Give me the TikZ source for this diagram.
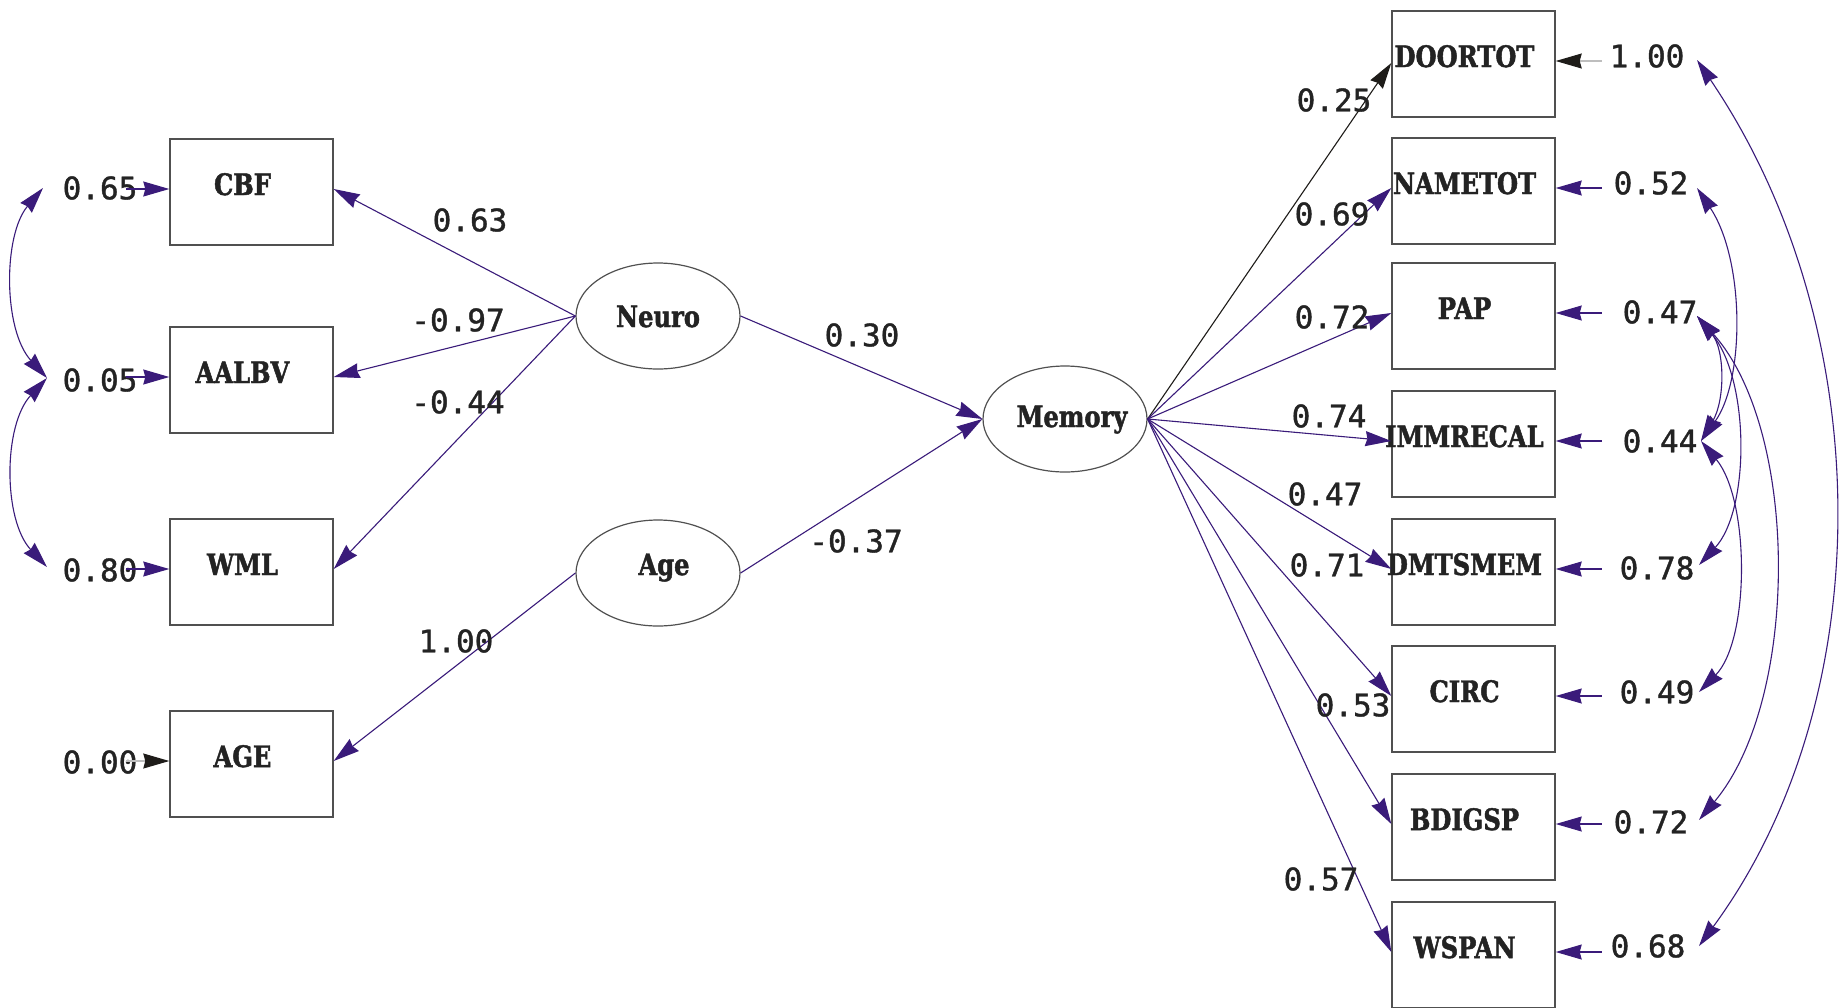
\documentclass[tikz,border=0pt]{standalone}
\usepackage{fontspec}
\usetikzlibrary{arrows.meta,shapes.geometric}
\newfontfamily\numfont[FakeBold=1.2]{DejaVu Sans Mono}
\newfontfamily\lblfont[FakeStretch=0.82,BoldFeatures={FakeStretch=0.82,FakeBold=1.6}]{DejaVu Serif}
\definecolor{pth}{RGB}{58,27,122}
\definecolor{txt}{RGB}{35,35,35}
\definecolor{edg}{RGB}{80,80,80}
\definecolor{fixl}{RGB}{190,190,190}
\definecolor{fixh}{RGB}{30,28,25}
\begin{document}
\begin{tikzpicture}[x=1pt,y=-1pt,
 box/.style={draw=edg,line width=1.4pt,rectangle,minimum width=163pt,minimum height=106pt,inner sep=0pt},
 lat/.style={draw=edg,line width=1.2pt,ellipse,minimum width=164pt,minimum height=106pt,inner sep=0pt},
 vname/.style={text=txt,font=\lblfont\bfseries\fontsize{29.5}{30}\selectfont,inner sep=0pt,anchor=base},
 num/.style={text=txt,font=\numfont\fontsize{31}{31}\selectfont,inner sep=0pt},
 pa/.style={draw=pth,line width=1.1pt,-{Stealth[length=26pt,width=15pt,inset=2pt]}},
 fa/.style={draw=fixl,line width=1.1pt,-{Stealth[length=26pt,width=15pt,inset=2pt,color=fixh]}},
 la/.style={draw=fixh,line width=1.1pt,-{Stealth[length=26pt,width=15pt,inset=2pt]}},
 cov/.style={draw=pth,line width=1.1pt,{Stealth[length=26pt,width=15pt,inset=2pt]}-{Stealth[length=26pt,width=15pt,inset=2pt]}},
]
\fill[white] (0,0) rectangle (1843,1007);
\useasboundingbox (0,0) rectangle (1843,1007);

% left boxes
\node[box] (CBF) at (251.5,192) {};
\node[box] (AALBV) at (251.5,380) {};
\node[box] (WML) at (251.5,572) {};
\node[box] (AGE) at (251.5,764) {};
\foreach \b/\t in {CBF/CBF,AALBV/AALBV,WML/WML,AGE/AGE}
  \node[vname] (t\b) at ([shift={(-9,3)}]\b.center) {\t};

% right boxes
\node[box] (DOOR) at (1473.5,64) {};
\node[box] (NAME) at (1473.5,191) {};
\node[box] (PAP) at (1473.5,316) {};
\node[box] (IMM) at (1473.5,444) {};
\node[box] (DMTS) at (1473.5,572) {};
\node[box] (CIRC) at (1473.5,699) {};
\node[box] (BDIG) at (1473.5,827) {};
\node[box] (WSPAN) at (1473.5,955) {};
\foreach \b/\t in {DOOR/DOORTOT,NAME/NAMETOT,PAP/PAP,IMM/IMMRECAL,DMTS/DMTSMEM,CIRC/CIRC,BDIG/BDIGSP,WSPAN/WSPAN}
  \node[vname] (t\b) at ([shift={(-9,3)}]\b.center) {\t};

% latent variables
\node[lat] (Neuro) at (658,316) {};
\node[lat] (Age) at (658,573) {};
\node[lat] (Memory) at (1065,419) {};
\node[vname] (tNeuro) at (658,327) {Neuro};
\node[vname] (tAge) at (664,575) {Age};
\node[vname] (tMemory) at (1072,427) {Memory};

% left error labels
\node[num] (e65) at (100,188) {0.65};
\node[num] (e05) at (100,380) {0.05};
\node[num] (e80) at (100,570) {0.80};
\node[num] (e00) at (100,762) {0.00};
\draw[pa] ([shift={(-43,-3)}]CBF.west) -- ([shift={(0,-3)}]CBF.west);
\draw[pa] ([shift={(-43,-3)}]AALBV.west) -- ([shift={(0,-3)}]AALBV.west);
\draw[pa] ([shift={(-43,-3)}]WML.west) -- ([shift={(0,-3)}]WML.west);
\draw[fa] ([shift={(-43,-3)}]AGE.west) -- ([shift={(0,-3)}]AGE.west);

% right error labels
\node[num] (eDOOR) at (1647,56) {1.00};
\node[num] (eNAME) at (1651,183) {0.52};
\node[num] (ePAP) at (1660,312) {0.47};
\node[num] (eIMM) at (1660,441) {0.44};
\node[num] (eDMTS) at (1657,568) {0.78};
\node[num] (eCIRC) at (1657,692) {0.49};
\node[num] (eBDIG) at (1651,822) {0.72};
\node[num] (eWSPAN) at (1648,946) {0.68};
\draw[fa] ([shift={(46,-3)}]DOOR.east) -- ([shift={(0,-3)}]DOOR.east);
\foreach \b in {NAME,PAP,IMM,DMTS,CIRC,BDIG,WSPAN}
  \draw[pa] ([shift={(46,-3)}]\b.east) -- ([shift={(0,-3)}]\b.east);

% structural paths
\draw[pa] (Neuro.west) -- ([shift={(0,-3)}]CBF.east);
\draw[pa] (Neuro.west) -- ([shift={(0,-3)}]AALBV.east);
\draw[pa] (Neuro.west) -- ([shift={(0,-3)}]WML.east);
\draw[pa] (Age.west) -- ([shift={(0,-3)}]AGE.east);
\draw[pa] (Neuro.east) -- (Memory.west);
\draw[pa] (Age.east) -- (Memory.west);
\draw[la] (Memory.east) -- ([shift={(0,-1)}]DOOR.west);
\foreach \b in {NAME,PAP,IMM,DMTS,CIRC,BDIG,WSPAN}
  \draw[pa] (Memory.east) -- ([shift={(0,-3)}]\b.west);

% path labels
\node[num] (p63) at (470,220) {0.63};
\node[num] (p97) at (458,320) {-0.97};
\node[num] (p44) at (458,402) {-0.44};
\node[num] (p100) at (456,641) {1.00};
\node[num] (p30) at (862,335) {0.30};
\node[num] (p37) at (856,541) {-0.37};
\node[num] (l25) at (1334,100) {0.25};
\node[num] (l69) at (1332,214) {0.69};
\node[num] (l72) at (1332,317) {0.72};
\node[num] (l74) at (1329,416) {0.74};
\node[num] (l47) at (1325,494) {0.47};
\node[num] (l71) at (1327,565) {0.71};
\node[num] (l53) at (1353,705) {0.53};
\node[num] (l57) at (1321,879) {0.57};

% covariance curves left
\coordinate (c65) at (43,188);
\coordinate (c05) at (47,378);
\coordinate (c80) at (47,567);
\draw[cov] (c65) .. controls (3,235) and (3,330) .. (c05);
\draw[cov] (c05) .. controls (3,425) and (3,520) .. (c80);

% covariance curves right
\coordinate (r100) at (1697,60);
\coordinate (r52) at (1697,188);
\coordinate (r47) at (1697,316);
\coordinate (r44) at (1701,441);
\coordinate (r78) at (1699,565);
\coordinate (r49) at (1699,692);
\coordinate (r72) at (1699,820);
\coordinate (r68) at (1699,946);
\draw[cov] (r100) .. controls (1880,330) and (1880,700) .. (r68);
\draw[cov] (r52) .. controls (1745,260) and (1745,380) .. (r44);
\draw[cov] (r47) .. controls (1725,350) and (1725,400) .. (r44);
\draw[cov] (r44) .. controls (1750,500) and (1750,640) .. (r49);
\draw[cov] (r47) .. controls (1750,380) and (1750,510) .. (r78);
\draw[cov] (r47) .. controls (1800,430) and (1800,700) .. (r72);
\end{tikzpicture}
\end{document}
